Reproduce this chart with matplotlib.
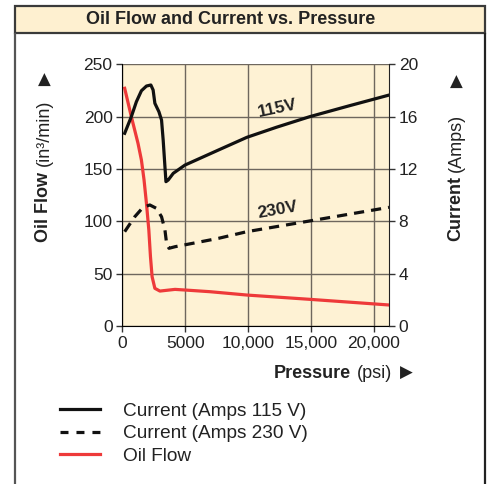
import matplotlib.pyplot as plt
from matplotlib.patches import Rectangle
from matplotlib.lines import Line2D

plt.rcParams['font.family'] = ['Liberation Sans', 'DejaVu Sans']

# pressure (psi) / current (A) for the 115 V motor
p115 = [190, 720, 1120, 1520, 1920, 2270, 2450, 2590, 2910, 3120, 3250, 3390,
        3470, 3650, 4050, 4980, 7640, 9900, 12250, 14900, 18070, 21200]
amps115 = [14.73, 16.0, 17.14, 17.98, 18.34, 18.42, 18.04, 17.02, 16.38, 15.74,
           14.21, 12.18, 11.03, 11.16, 11.67, 12.3, 13.45, 14.42, 15.19, 16.0,
           16.84, 17.65]

# pressure (psi) / current (A) for the 230 V motor
p230 = [190, 990, 1650, 2190, 2720, 3120, 3390, 3520, 3710, 4190, 7640, 9900,
        14900, 21200]
amps230 = [7.21, 8.35, 9.07, 9.25, 8.99, 8.35, 7.34, 6.32, 5.94, 6.06, 6.7,
           7.21, 8.03, 9.07]

# pressure (psi) / oil flow (in^3/min)
p_oil = [190, 720, 1250, 1520, 1730, 1920, 2110, 2240, 2370, 2590, 2990, 4190,
         4980, 6960, 9900, 14900, 21200]
oil_flow = [227.1, 200.0, 174.5, 158.6, 139.5, 117.2, 91.7, 66.2, 47.1, 36.0,
            33.4, 35.0, 34.4, 32.8, 29.6, 25.5, 20.1]

x_ticks = [0, 5000, 10000, 15000, 20000]
x_ticklabels = ['0', '5000', '10,000', '15,000', '20,000']
flow_ticks = [0, 50, 100, 150, 200, 250]
amp_ticks = [0, 4, 8, 12, 16, 20]

cream = '#FEF2D4'
grid_col = '#6E675E'
red = '#EE3A3A'
ink = '#222222'

fig = plt.figure(figsize=(4.87, 4.84), dpi=100)

# outer frame and title band
fig.add_artist(Rectangle((0.0318, 0.9318), 0.9641, 0.0568, transform=fig.transFigure,
                         facecolor='#FEF0D0', edgecolor='#3A3A3A', lw=1.6))
fig.add_artist(Line2D([0.0318, 0.0318], [0.0, 0.93], transform=fig.transFigure,
                      color='#555555', lw=1.6))
fig.add_artist(Line2D([0.9959, 0.9959], [0.0, 0.93], transform=fig.transFigure,
                      color='#222222', lw=1.6))
fig.text(0.474, 0.9607, 'Oil Flow and Current vs. Pressure', ha='center', va='center',
         fontsize=13, fontweight='bold', color=ink)

ax = fig.add_axes([0.2511, 0.3264, 0.5477, 0.5407])
ax.set_facecolor(cream)
ax2 = ax.twinx()

ax.plot(p_oil, oil_flow, color=red, lw=2.3, solid_joinstyle='round')
ax2.plot(p115, amps115, color='#111111', lw=2.3, solid_joinstyle='round')
ax2.plot(p230, amps230, color='#111111', lw=2.3, linestyle=(0, (3.2, 2.2)))

ax.set_xlim(0, 21200)
ax.set_ylim(0, 250)
ax2.set_ylim(0, 20)
ax.set_xticks(x_ticks)
ax.set_xticklabels(x_ticklabels)
ax.set_yticks(flow_ticks)
ax2.set_yticks(amp_ticks)

ax.grid(True, color=grid_col, lw=1.0)
ax.set_axisbelow(True)
for a in (ax, ax2):
    a.tick_params(labelsize=12.5, length=4, width=1, color='#333333',
                  labelcolor=ink, pad=3)
    for s in a.spines.values():
        s.set_visible(False)
ax.spines['left'].set_visible(True)
ax.spines['bottom'].set_visible(True)
ax2.spines['right'].set_visible(True)
ax2.spines['right'].set_color(ink)

ax2.text(12350, 16.65, '115V', rotation=12, ha='center', va='center',
         fontsize=12.5, fontweight='bold', color=ink)
ax2.text(12350, 8.87, '230V', rotation=10, ha='center', va='center',
         fontsize=12.5, fontweight='bold', color=ink)

# axis titles
fig.text(0.0903, 0.5733, 'Oil Flow', rotation=90, ha='center', va='center',
         fontsize=13, fontweight='bold', color=ink)
fig.text(0.0903, 0.7262, '(in³/min)', rotation=90, ha='center', va='center',
         fontsize=13, color=ink)
fig.text(0.0903, 0.8347, '▲', ha='center', va='center', fontsize=12, color=ink,
         family=['DejaVu Sans'])
fig.text(0.9363, 0.5682, 'Current', rotation=90, ha='center', va='center',
         fontsize=13, fontweight='bold', color=ink)
fig.text(0.9363, 0.7056, '(Amps)', rotation=90, ha='center', va='center',
         fontsize=13, color=ink)
fig.text(0.9363, 0.8306, '▲', ha='center', va='center', fontsize=12, color=ink,
         family=['DejaVu Sans'])
fig.text(0.6417, 0.2293, 'Pressure', ha='center', va='center',
         fontsize=13, fontweight='bold', color=ink)
fig.text(0.769, 0.2293, '(psi)', ha='center', va='center', fontsize=13, color=ink)
fig.text(0.8337, 0.2293, '▶', ha='center', va='center', fontsize=12, color=ink,
         family=['DejaVu Sans'])

handles = [Line2D([], [], color='#111111', lw=2.3),
           Line2D([], [], color='#111111', lw=2.3, linestyle=(0, (2.5, 2.5))),
           Line2D([], [], color=red, lw=2.3)]
labels = ['Current (Amps 115 V)', 'Current (Amps 230 V)', 'Oil Flow']
fig.legend(handles, labels, loc='upper left', bbox_to_anchor=(0.123, 0.169),
           frameon=False, fontsize=13.7, handlelength=2.1, handletextpad=1.2,
           labelspacing=0.28, borderaxespad=0, borderpad=0,
           labelcolor=ink)

fig.savefig('out.png', dpi=100)
